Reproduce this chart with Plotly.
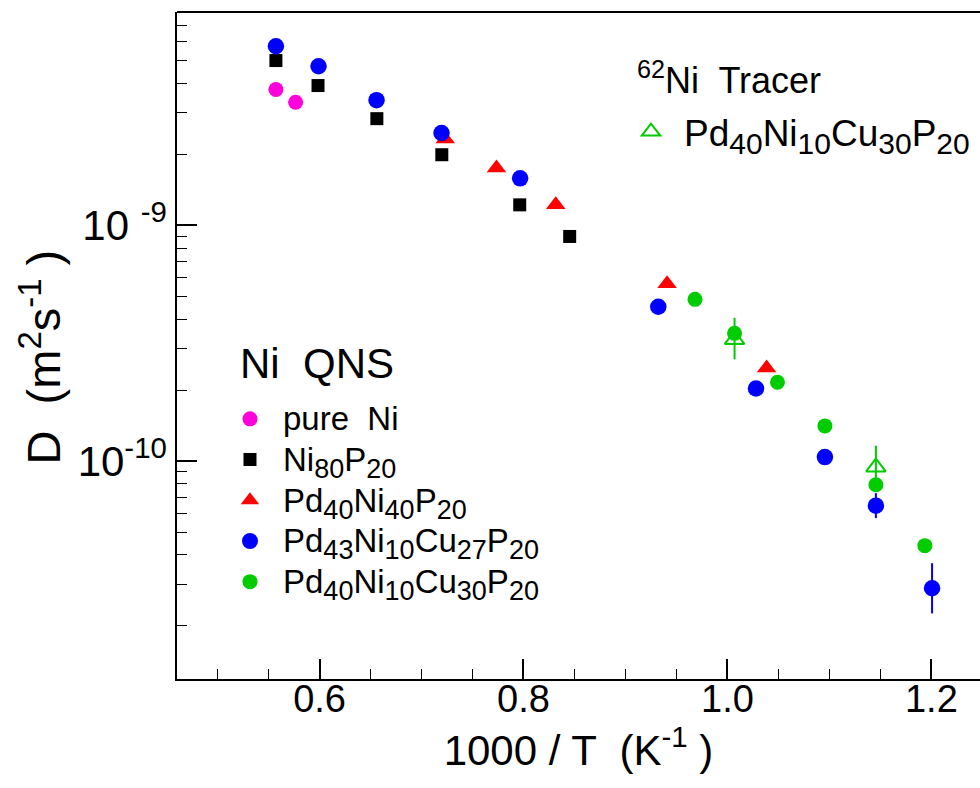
import plotly.graph_objects as go

# ---------------- data ----------------
pureNi_x = [0.5572, 0.5765]
pureNi_y = [3.76e-9, 3.32e-9]

ni80_x = [0.5572, 0.5985, 0.6562, 0.7199, 0.7963, 0.8453]
ni80_y = [4.99e-9, 3.91e-9, 2.83e-9, 1.99e-9, 1.22e-9, 8.96e-10]

pd40ni40_x = [0.7232, 0.7735, 0.8316, 0.9408, 1.0384]
pd40ni40_y = [2.32e-9, 1.75e-9, 1.22e-9, 5.65e-10, 2.48e-10]

pd43_x = [0.5572, 0.599, 0.6559, 0.7196, 0.7967, 0.9322, 1.0280, 1.0956, 1.1456, 1.2007]
pd43_y = [5.74e-9, 4.72e-9, 3.39e-9, 2.46e-9, 1.58e-9, 4.51e-10, 2.03e-10, 1.04e-10, 6.47e-11, 2.89e-11]
pd43_err_plus = [0, 0, 0, 0, 0, 0, 0, 0, 0.84e-11, 0.80e-11]
pd43_err_minus = [0, 0, 0, 0, 0, 0, 0, 0, 0.74e-11, 0.63e-11]

pd40cu30_x = [0.9682, 1.0070, 1.0491, 1.0956, 1.1456, 1.1936]
pd40cu30_y = [4.85e-10, 3.48e-10, 2.16e-10, 1.41e-10, 7.94e-11, 4.38e-11]

tracer_x = [1.0070, 1.1456]
tracer_y = [3.27e-10, 9.42e-11]
tracer_err_plus = [0.78e-10, 2.2e-11]
tracer_err_minus = [0.57e-10, 2.0e-11]

x_tickvals = [0.6, 0.8, 1.0, 1.2]
x_ticktext = ["0.6", "0.8", "1.0", "1.2"]
x_minor = [0.5, 0.55, 0.65, 0.7, 0.75, 0.85, 0.9, 0.95, 1.05, 1.1, 1.15]
y_tickvals = [1e-9, 1e-10]
y_ticktext = ["10 <sup>-9</sup>", "10<sup>-10</sup>"]
y_minor = [m * 10.0 ** e for e in (-11, -10, -9) for m in range(2, 10)]

FONT = "Liberation Sans, Arial, sans-serif"
NARROW = "Liberation Sans Narrow, Liberation Sans, Arial, sans-serif"


def formula(parts, px, subpx):
    """parts: list of (element, count) -> text with enlarged subscripts"""
    s = ""
    for el, n in parts:
        s += el
        if n:
            s += '<sub><span style="font-size:%dpx">%s</span></sub>' % (subpx, n)
    return '<span style="font-size:%dpx">%s</span>' % (px, s)


Q = 33
QS = 27
fig = go.Figure()

fig.add_trace(go.Scatter(x=pureNi_x, y=pureNi_y, mode="markers",
                         name='<span style="font-size:%dpx">pure  Ni</span>' % Q,
                         legend="legend",
                         marker=dict(symbol="circle", size=15, color="#ff00dd")))
fig.add_trace(go.Scatter(x=ni80_x, y=ni80_y, mode="markers",
                         name=formula([("Ni", "80"), ("P", "20")], Q, QS), legend="legend",
                         marker=dict(symbol="square", size=13, color="black")))
fig.add_trace(go.Scatter(x=pd40ni40_x, y=pd40ni40_y, mode="markers",
                         name=formula([("Pd", "40"), ("Ni", "40"), ("P", "20")], Q, QS), legend="legend",
                         marker=dict(symbol="triangle-up", size=17, color="#ff0000")))
fig.add_trace(go.Scatter(x=pd43_x, y=pd43_y, mode="markers",
                         name=formula([("Pd", "43"), ("Ni", "10"), ("Cu", "27"), ("P", "20")], Q, QS),
                         legend="legend",
                         error_y=dict(type="data", array=pd43_err_plus, arrayminus=pd43_err_minus,
                                      thickness=2, width=0, color="#0000ff"),
                         marker=dict(symbol="circle", size=16.5, color="#0000ff")))
fig.add_trace(go.Scatter(x=tracer_x, y=tracer_y, mode="markers",
                         name=formula([("Pd", "40"), ("Ni", "10"), ("Cu", "30"), ("P", "20")], 37, 30),
                         legend="legend2",
                         error_y=dict(type="data", array=tracer_err_plus, arrayminus=tracer_err_minus,
                                      thickness=2, width=0, color="#00cc00"),
                         marker=dict(symbol="triangle-up-open", size=17, color="#00cc00",
                                     line=dict(width=2, color="#00cc00"))))
fig.add_trace(go.Scatter(x=pd40cu30_x, y=pd40cu30_y, mode="markers",
                         name=formula([("Pd", "40"), ("Ni", "10"), ("Cu", "30"), ("P", "20")], Q, QS),
                         legend="legend",
                         marker=dict(symbol="circle", size=15, color="#00cc00")))

fig.update_layout(
    width=980, height=788,
    margin=dict(l=177, r=0, t=12, b=109),
    paper_bgcolor="white", plot_bgcolor="white",
    font=dict(family=FONT, color="black", size=30),
    showlegend=True,
    legend=dict(x=0.0498, y=0.428, xanchor="left", yanchor="top",
                bgcolor="rgba(0,0,0,0)", tracegroupgap=0, traceorder="normal",
                itemwidth=56,
                font=dict(size=29, family=FONT)),
    legend2=dict(x=0.5492, y=0.8666, xanchor="left", yanchor="top",
                 bgcolor="rgba(0,0,0,0)", itemwidth=56,
                 font=dict(size=37, family=FONT)),
    annotations=[
        dict(text="Ni  QNS", xref="paper", yref="paper", x=0.076, y=0.4723,
             xanchor="left", yanchor="middle", showarrow=False,
             font=dict(size=42, family=FONT, color="black")),
        dict(text="<sup>62</sup>Ni  Tracer", xref="paper", yref="paper", x=0.570, y=0.901,
             xanchor="left", yanchor="middle", showarrow=False,
             font=dict(size=36, family=FONT, color="black")),
        dict(text="D  (m<sup>2</sup>s<sup>-1</sup> )", xref="paper", yref="paper",
             x=-0.170, y=0.4828, xanchor="center", yanchor="middle", textangle=-90,
             showarrow=False, font=dict(size=47, family=FONT, color="black")),
    ],
    xaxis=dict(range=[0.4602, 1.2477], showline=True, linecolor="black", linewidth=1.5,
               ticks="inside", ticklen=20, tickwidth=1.5, tickcolor="black",
               tickmode="array", tickvals=x_tickvals, ticktext=x_ticktext,
               tickfont=dict(size=38, family=NARROW), ticklabelstandoff=-14,
               minor=dict(ticks="inside", ticklen=10, tickwidth=1.2, tickcolor="black",
                          tickmode="array", tickvals=x_minor),
               showgrid=False, zeroline=False,
               title=dict(text="1000 / T  (K<sup>-1</sup> )", font=dict(size=42, family=NARROW), standoff=14)),
    yaxis=dict(type="log", range=[-10.924, -8.096], showline=True, linecolor="black", linewidth=1.5,
               ticks="inside", ticklen=20, tickwidth=1.5, tickcolor="black",
               tickmode="array", tickvals=y_tickvals, ticktext=y_ticktext,
               tickfont=dict(size=42, family=FONT),
               minor=dict(ticks="inside", ticklen=10, tickwidth=1.2, tickcolor="black",
                          tickmode="array", tickvals=y_minor),
               showgrid=False, zeroline=False),
    shapes=[dict(type="line", xref="paper", yref="paper", x0=0, x1=1, y0=1, y1=1,
                 line=dict(color="black", width=2))],
)

fig.write_html("out.html")
